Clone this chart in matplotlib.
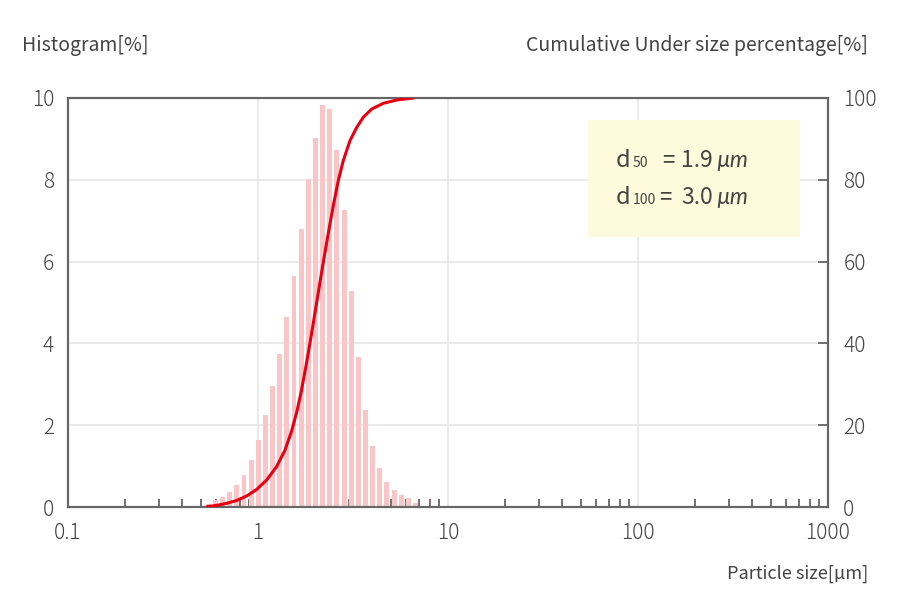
import matplotlib
matplotlib.use("Agg")
import matplotlib.pyplot as plt
from matplotlib.ticker import LogLocator, NullFormatter, FixedLocator, FixedFormatter
import numpy as np

plt.rcParams['font.family'] = ['Noto Sans CJK JP', 'DejaVu Sans']

# histogram bins (particle size, um) and frequency (%)
bin_sizes = [0.547, 0.597, 0.651, 0.710, 0.774, 0.844, 0.920, 1.003, 1.094, 1.193,
             1.301, 1.419, 1.547, 1.687, 1.840, 2.006, 2.188, 2.386, 2.602, 2.837,
             3.094, 3.374, 3.680, 4.013, 4.376, 4.772, 5.204, 5.675, 6.189, 6.749]
hist_pct = [0.08, 0.18, 0.25, 0.37, 0.54, 0.79, 1.16, 1.63, 2.24, 2.95,
            3.75, 4.65, 5.66, 6.79, 8.03, 9.03, 9.82, 9.72, 8.74, 7.26,
            5.28, 3.67, 2.37, 1.49, 0.96, 0.61, 0.41, 0.29, 0.23, 0.11]

# cumulative under size curve
cum_sizes = [0.541, 0.606, 0.684, 0.772, 0.872, 0.984, 1.111, 1.254, 1.387, 1.504,
             1.599, 1.684, 1.788, 1.900, 2.020, 2.146, 2.280, 2.373, 2.491, 2.646,
             2.811, 3.050, 3.307, 3.583, 3.967, 4.565, 5.370, 6.569]
cum_pct = [0.1, 0.4, 0.9, 1.6, 2.7, 4.3, 6.6, 9.9, 13.9, 18.6,
           23.2, 27.9, 34.4, 41.5, 49.0, 56.5, 63.7, 68.3, 73.7, 79.8,
           84.7, 89.6, 92.8, 95.3, 97.3, 98.7, 99.5, 100.0]

x_ticks = [0.1, 1, 10, 100, 1000]
x_labels = ['0.1', '1', '10', '100', '1000']

text_col = '#444444'
spine_col = '#666666'

fig = plt.figure(figsize=(9, 6.16), dpi=100)
ax = fig.add_axes([68/900, 109/616, 760/900, 409/616])

# bars with constant width in log space
half = 10 ** (0.026 / 2)
lefts = np.array(bin_sizes) / half
rights = np.array(bin_sizes) * half
ax.bar(lefts, hist_pct, width=rights - lefts, align='edge', color='#f9c5c6',
       linewidth=0, zorder=2)

ax.set_xscale('log')
ax.set_xlim(0.1, 1000)
ax.set_ylim(0, 10)
ax.xaxis.set_major_locator(FixedLocator(x_ticks))
ax.xaxis.set_major_formatter(FixedFormatter(x_labels))
ax.xaxis.set_minor_locator(LogLocator(base=10, subs=np.arange(2, 10)))
ax.xaxis.set_minor_formatter(NullFormatter())
ax.set_yticks([0, 2, 4, 6, 8, 10])
ax.tick_params(axis='x', which='major', length=0, pad=11, labelsize=15, labelcolor=text_col)
ax.tick_params(axis='x', which='minor', direction='in', length=6, width=1.3, color=spine_col)
ax.tick_params(axis='y', length=0, pad=10, labelsize=15, labelcolor=text_col)
ax.grid(True, which='major', color='#e6e6e6', lw=1.2, zorder=0)
ax.set_axisbelow(True)
for s in ax.spines.values():
    s.set_color(spine_col)
    s.set_linewidth(1.5)

ax2 = ax.twinx()
ax2.plot(cum_sizes, cum_pct, color='#e60012', lw=2.2, solid_joinstyle='round',
         solid_capstyle='round', zorder=5)
ax2.set_ylim(0, 100)
ax2.set_yticks([0, 20, 40, 60, 80, 100])
ax2.tick_params(axis='y', direction='in', length=7, width=1.3, color=spine_col,
                pad=11, labelsize=15, labelcolor=text_col)
for s in ax2.spines.values():
    s.set_color(spine_col)
    s.set_linewidth(1.5)
for lbl in ax.get_xticklabels() + ax.get_yticklabels() + ax2.get_yticklabels():
    lbl.set_fontweight('light')

# result box
box = plt.Rectangle((0.684, 0.660), 0.279, 0.286, transform=ax2.transAxes,
                    facecolor='#fdfbdc', edgecolor='none', zorder=4)
ax2.add_patch(box)

def px(x, y):
    return x / 900, 1 - y / 616

for base_y, sub, val, eq_x in [(167, '50', '1.9', 662), (204, '100', '3.0', 659)]:
    fig.text(*px(616, base_y), 'd', fontsize=17, color=text_col, va='baseline', zorder=6)
    fig.text(*px(633, base_y), sub, fontsize=10, color=text_col, va='baseline', zorder=6)
    fig.text(*px(eq_x, base_y), '=', fontsize=16, color=text_col, va='baseline', zorder=6)
    fig.text(*px(681, base_y), val, fontsize=16.5, color=text_col, va='baseline', zorder=6)
    fig.text(*px(716, base_y), 'µm', fontsize=16.5, color=text_col, va='baseline',
             family=['Lato', 'DejaVu Sans'], style='italic', zorder=6)

fig.text(22/900, 1 - 45/616, 'Histogram[%]', fontsize=14, color=text_col, va='center', ha='left')
fig.text(868/900, 1 - 45/616, 'Cumulative Under size percentage[%]', fontsize=14,
         color=text_col, va='center', ha='right')
fig.text(868/900, 1 - 574/616, 'Particle size[µm]', fontsize=13, color=text_col,
         va='center', ha='right')

fig.savefig('out.png', dpi=100)
